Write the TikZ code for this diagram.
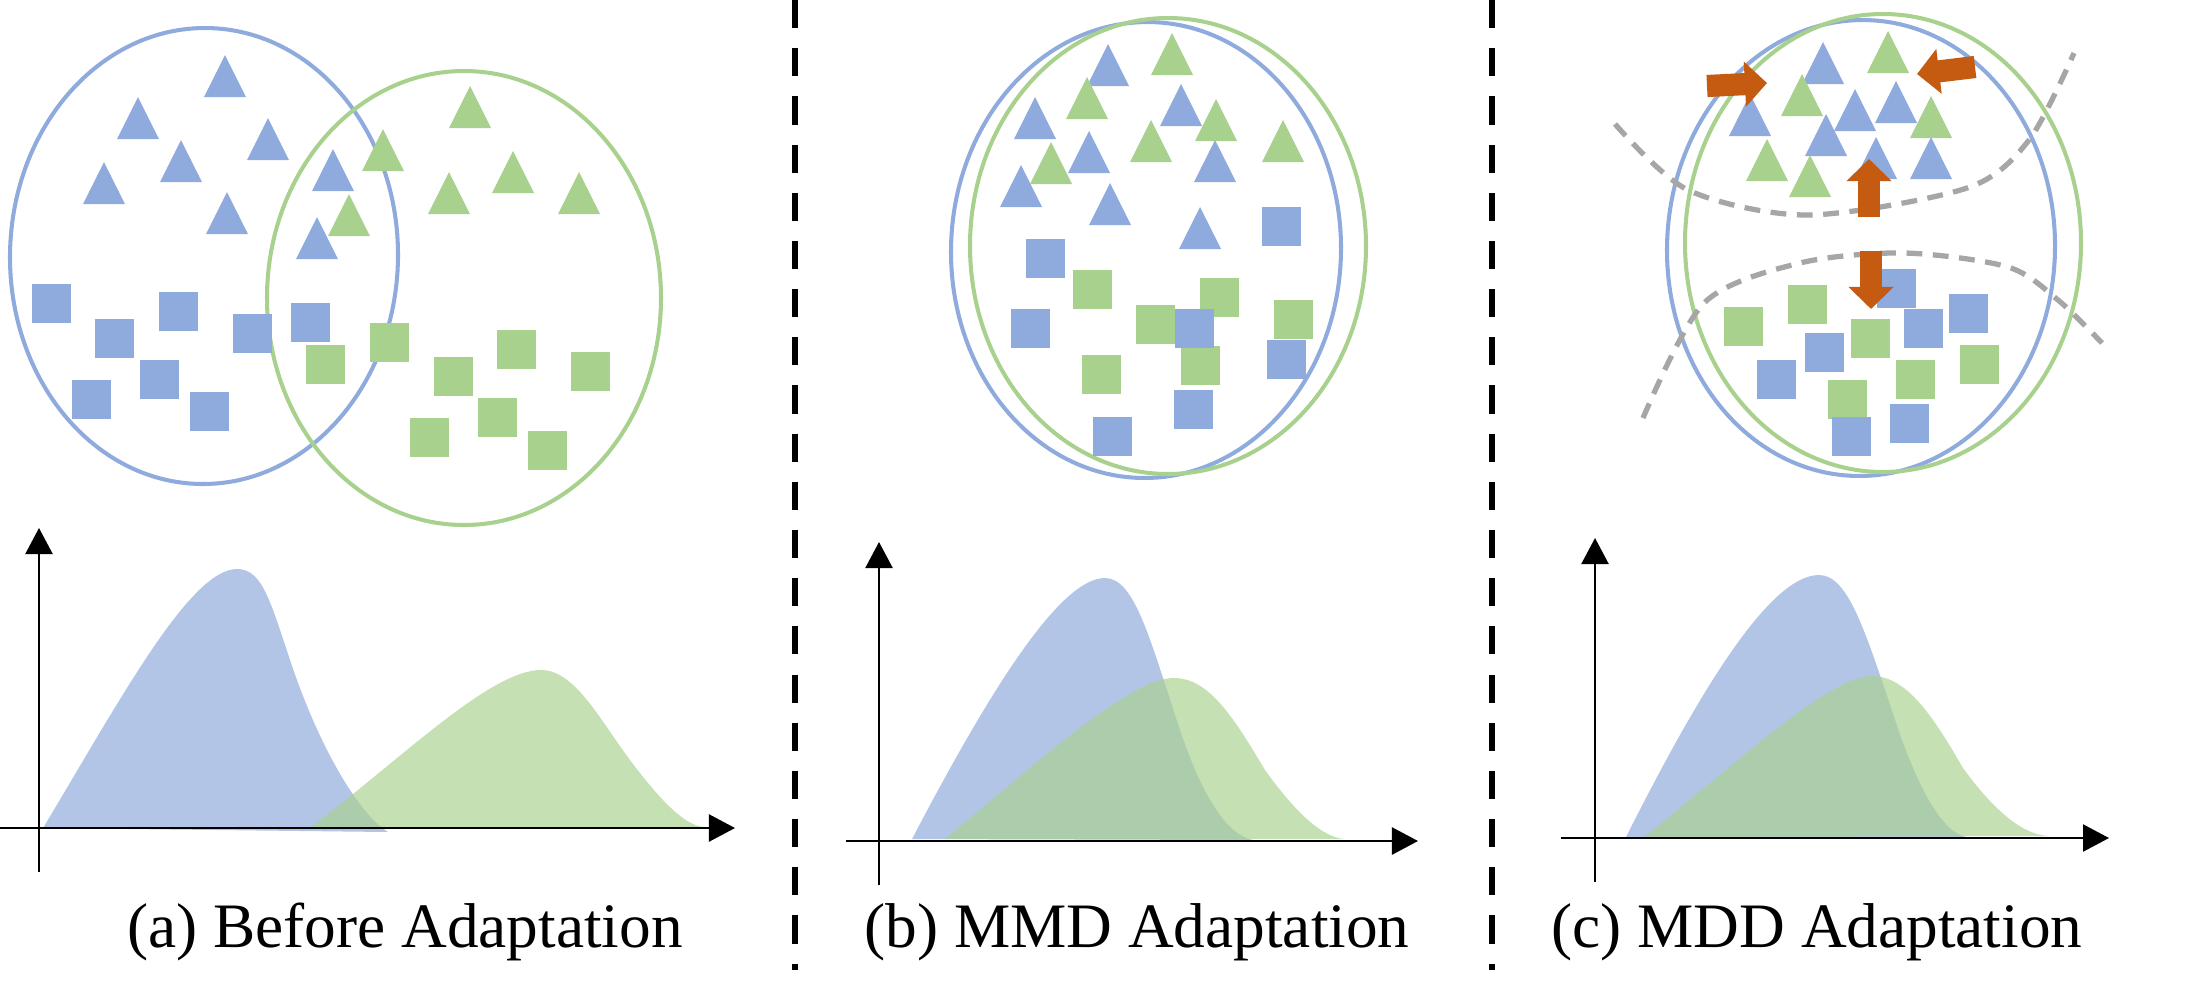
\documentclass[tikz,border=0pt]{standalone}
\usepackage{fontspec}
\setmainfont{Liberation Serif}
\usetikzlibrary{arrows.meta}
\definecolor{srcblue}{HTML}{8FAADC}
\definecolor{tgtgreen}{HTML}{A9D18E}
\definecolor{pushorange}{HTML}{C55A11}
\definecolor{boundgray}{HTML}{A6A6A6}
\begin{document}
\begin{tikzpicture}[x=0.01cm,y=-0.01cm,
	cluster/.style={line width=1.15pt},
	src/.style={fill=srcblue},
	tgt/.style={fill=tgtgreen},
	density/.style={fill opacity=0.68},
	axis/.style={line width=0.6pt,-{Triangle[width=7.7pt,length=7.4pt]}},
	bound/.style={boundgray,line width=1.5pt,dash pattern=on 4.5pt off 3pt},
	push/.style={pushorange,line width=6.3pt,-{Triangle[width=12.5pt,length=6.3pt]}},
	sep/.style={line width=1.7pt,dash pattern=on 8pt off 5.7pt},
	caption/.style={font=\fontsize{18}{20}\selectfont,anchor=base,inner sep=0pt}]
\useasboundingbox (0,0) rectangle (2203,1002);
% separators
\draw[sep] (795,0) -- (795,970);
\draw[sep] (1492,0) -- (1492,970);
% (a) before adaptation
\draw[cluster,srcblue,rotate around={-0.9:(204,256)}] (204,256) ellipse [x radius=194,y radius=228];
\draw[cluster,tgtgreen] (464,298) ellipse [x radius=197,y radius=227];
\foreach \x/\y in {225/55,138/97,268/118,181/140,104/162,227/192,333/149,317/217}
	\fill[src] (\x,\y) -- ++(21,42) -- ++(-42,0) -- cycle;
\foreach \x/\y in {470/86,383/129,349/194,449/172,513/151,579/172}
	\fill[tgt] (\x,\y) -- ++(21,42) -- ++(-42,0) -- cycle;
\foreach \x/\y in {32/284,95/319,159/292,233/314,291/303,140/360,72/380,190/392}
	\fill[src] (\x,\y) rectangle ++(39,39);
\foreach \x/\y in {306/345,370/323,434/357,497/330,571/352,478/398,410/418,528/431}
	\fill[tgt] (\x,\y) rectangle ++(39,39);
\fill[srcblue,density] (43,828) .. controls (120,700) and (190,569) .. (237,569)
	.. controls (262,569) and (270,600) .. (290,660) .. controls (320,750) and (360,815) .. (388,832) -- cycle;
\fill[tgtgreen,density] (311,827) .. controls (400,760) and (490,670) .. (541,670)
	.. controls (575,670) and (600,720) .. (630,760) .. controls (660,800) and (685,826) .. (704,827) -- cycle;
\draw[axis] (39,872) -- (39,528);
\draw[axis] (0,828) -- (735,828);
\node[caption] (capa) at (405,947) {(a) Before Adaptation};
% (b) MMD adaptation
\draw[cluster,srcblue,rotate around={-1.4:(1146,250)}] (1146,250) ellipse [x radius=195,y radius=228];
\draw[cluster,tgtgreen] (1168,246) ellipse [x radius=198,y radius=228];
\foreach \x/\y in {1108/44,1035/97,1181/84,1089/131,1215/140,1021/165,1110/183,1200/207}
	\fill[src] (\x,\y) -- ++(21,42) -- ++(-42,0) -- cycle;
\foreach \x/\y in {1172/33,1087/77,1216/99,1151/120,1283/120,1051/142}
	\fill[tgt] (\x,\y) -- ++(21,42) -- ++(-42,0) -- cycle;
\foreach \x/\y in {1073/270,1200/278,1136/305,1274/300,1181/346,1082/355}
	\fill[tgt] (\x,\y) rectangle ++(39,39);
\foreach \x/\y in {1026/239,1262/207,1011/309,1175/309,1267/340,1174/390,1093/417}
	\fill[src] (\x,\y) rectangle ++(39,39);
\fill[srcblue,density] (912,839) .. controls (990,690) and (1060,578) .. (1105,578)
	.. controls (1135,578) and (1150,640) .. (1180,730) .. controls (1200,790) and (1225,835) .. (1253,840) -- cycle;
\fill[tgtgreen,density] (945,839) .. controls (1040,760) and (1130,678) .. (1174,678)
	.. controls (1210,678) and (1235,720) .. (1265,770) .. controls (1290,805) and (1320,838) .. (1345,839) -- cycle;
\draw[axis] (879,885) -- (879,542);
\draw[axis] (846,841) -- (1418,841);
\node[caption] (capb) at (1137,947) {(b) MMD Adaptation};
% (c) MDD adaptation
\draw[cluster,srcblue,rotate around={-1.6:(1861,248)}] (1861,248) ellipse [x radius=194,y radius=228];
\draw[cluster,tgtgreen] (1883,243) ellipse [x radius=198,y radius=229];
\draw[bound] plot[smooth] coordinates {(1615,124) (1688,190) (1808,215) (1967,188) (2029,140) (2074,53)};
\draw[bound] plot[smooth] coordinates {(1643,418) (1704,303) (1800,263) (1904,253) (2008,267) (2058,300) (2102,343)};
\foreach \x/\y in {1823/42,1855/89,1896/81,1750/94,1826/114,1876/137,1931/137}
	\fill[src] (\x,\y) -- ++(21,42) -- ++(-42,0) -- cycle;
\foreach \x/\y in {1888/31,1802/74,1931/96,1767/139,1810/155}
	\fill[tgt] (\x,\y) -- ++(21,42) -- ++(-42,0) -- cycle;
\foreach \x/\y in {1724/307,1788/285,1851/319,1960/345,1896/360,1828/380}
	\fill[tgt] (\x,\y) rectangle ++(39,39);
\foreach \x/\y in {1877/269,1949/294,1904/309,1805/333,1757/360,1890/404,1832/417}
	\fill[src] (\x,\y) rectangle ++(39,39);
\draw[push] (1707,86) -- (1767,83);
\draw[push] (1975,67) -- (1917,74);
\draw[push] (1869,217) -- (1869,159);
\draw[push] (1871,251) -- (1871,309);
\fill[srcblue,density] (1626,837) .. controls (1700,690) and (1770,575) .. (1819,575)
	.. controls (1848,575) and (1865,630) .. (1895,720) .. controls (1915,780) and (1940,832) .. (1966,837) -- cycle;
\fill[tgtgreen,density] (1644,837) .. controls (1740,760) and (1830,676) .. (1872,676)
	.. controls (1908,676) and (1935,720) .. (1963,768) .. controls (1990,805) and (2020,835) .. (2049,836) -- cycle;
\draw[axis] (1595,882) -- (1595,538);
\draw[axis] (1561,838) -- (2109,838);
\node[caption] (capc) at (1817,947) {(c) MDD Adaptation};
\end{tikzpicture}
\end{document}
